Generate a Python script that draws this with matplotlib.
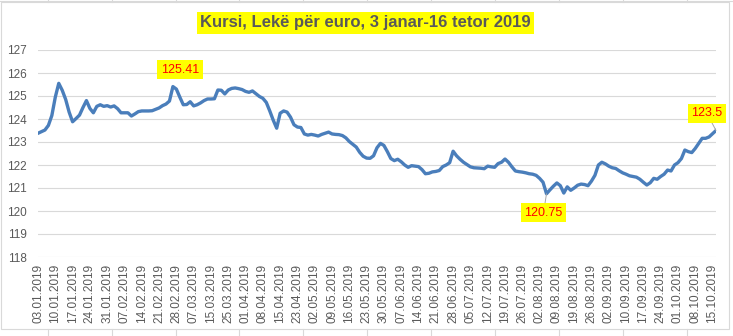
import matplotlib.pyplot as plt
from matplotlib.lines import Line2D
from matplotlib.patches import Rectangle

# ALL per EUR, one value per business day (03.01.2019 - 16.10.2019)
rates = [
    123.38, 123.45, 123.52, 123.72, 124.15, 124.95, 125.55, 125.25, 124.85, 124.30,
    123.88, 124.02, 124.17, 124.50, 124.80, 124.46, 124.27, 124.55, 124.62, 124.55,
    124.58, 124.52, 124.57, 124.45, 124.27, 124.27, 124.27, 124.13, 124.22, 124.32,
    124.35, 124.35, 124.35, 124.36, 124.42, 124.48, 124.58, 124.65, 124.78, 125.41,
    125.30, 124.95, 124.62, 124.63, 124.75, 124.57, 124.62, 124.70, 124.80, 124.87,
    124.87, 124.88, 125.26, 125.25, 125.09, 125.26, 125.33, 125.35, 125.32, 125.28,
    125.20, 125.16, 125.22, 125.10, 124.98, 124.90, 124.72, 124.35, 123.95, 123.60,
    124.25, 124.35, 124.30, 124.08, 123.75, 123.65, 123.63, 123.35, 123.30, 123.33,
    123.30, 123.26, 123.33, 123.38, 123.43, 123.35, 123.33, 123.32, 123.28, 123.18,
    123.02, 122.90, 122.78, 122.55, 122.38, 122.30, 122.29, 122.40, 122.75, 122.94,
    122.85, 122.58, 122.28, 122.19, 122.25, 122.14, 122.00, 121.90, 121.97, 121.95,
    121.93, 121.80, 121.62, 121.64, 121.70, 121.72, 121.76, 121.93, 122.00, 122.10,
    122.60, 122.40, 122.25, 122.12, 122.02, 121.92, 121.88, 121.87, 121.86, 121.84,
    121.95, 121.92, 121.90, 122.06, 122.12, 122.26, 122.12, 121.92, 121.74, 121.71,
    121.69, 121.66, 121.62, 121.60, 121.55, 121.42, 121.25, 120.75, 120.92, 121.08,
    121.22, 121.10, 120.78, 121.05, 120.90, 121.00, 121.12, 121.17, 121.15, 121.10,
    121.30, 121.55, 122.00, 122.12, 122.05, 121.95, 121.88, 121.85, 121.75, 121.66,
    121.60, 121.53, 121.50, 121.47, 121.38, 121.25, 121.13, 121.23, 121.42, 121.38,
    121.50, 121.60, 121.78, 121.74, 122.00, 122.10, 122.28, 122.65, 122.58, 122.54,
    122.72, 122.94, 123.16, 123.16, 123.22, 123.36, 123.50,
]

# every fifth business day gets a date label
date_labels = [
    "03.01.2019", "10.01.2019", "17.01.2019", "24.01.2019", "31.01.2019",
    "07.02.2019", "14.02.2019", "21.02.2019", "28.02.2019", "07.03.2019",
    "15.03.2019", "25.03.2019", "01.04.2019", "08.04.2019", "15.04.2019",
    "23.04.2019", "02.05.2019", "09.05.2019", "16.05.2019", "23.05.2019",
    "30.05.2019", "07.06.2019", "14.06.2019", "21.06.2019", "28.06.2019",
    "05.07.2019", "12.07.2019", "19.07.2019", "26.07.2019", "02.08.2019",
    "09.08.2019", "19.08.2019", "26.08.2019", "02.09.2019", "10.09.2019",
    "17.09.2019", "24.09.2019", "01.10.2019", "08.10.2019", "15.10.2019",
]

# (index, text offset in pixels, draw leader line)
callouts = [(39, (7, 17), False), (147, (-3, -19), True), (196, (-9, 17), True)]

W, H = 733, 336
fig = plt.figure(figsize=(W / 100, H / 100), dpi=100)
plt.rcParams['font.family'] = ['Liberation Sans', 'DejaVu Sans']
grey = '#595959'

ax = fig.add_axes([38 / W, 1 - 257 / H, (716 - 38) / W, (257 - 50) / H])
x = list(range(len(rates)))
ax.plot(x, rates, color='#4A7EBB', lw=2.4, solid_joinstyle='round', zorder=3)

ax.set_xlim(0, len(rates) - 1)
ax.set_ylim(118, 127)
ax.set_yticks(range(118, 128))
ax.set_xticks(range(0, len(rates), 5))
ax.set_xticklabels(date_labels, rotation=90)
ax.tick_params(axis='y', length=0, pad=8, labelsize=8.5, labelcolor=grey)
ax.tick_params(axis='x', length=0, pad=5, labelsize=8.5, labelcolor=grey)
ax.grid(axis='y', color='#D9D9D9', lw=0.8)
ax.set_axisbelow(True)
for s in ax.spines.values():
    s.set_visible(False)

for i, off, leader in callouts:
    arrow = dict(arrowstyle='-', color='#A6A6A6', lw=0.7, shrinkA=0, shrinkB=0) if leader else None
    ax.annotate(f"{rates[i]:g}", xy=(i, rates[i]), xytext=off, textcoords='offset pixels',
                ha='center', va='center', fontsize=9, color='#FF0000',
                bbox=dict(boxstyle='square,pad=0.28', fc='#FFFF00', ec='none'),
                arrowprops=arrow, zorder=5)

fig.text(365.5 / W, 1 - 22.7 / H, "Kursi, Lekë për euro, 3 janar-16 tetor 2019",
         ha='center', va='center', fontsize=12, fontweight='bold', color=grey,
         family=['Liberation Sans Narrow', 'Liberation Sans', 'DejaVu Sans'],
         bbox=dict(boxstyle='square,pad=0.22', fc='#FFFF00', ec='none'))

# chart frame and the sheet's cell lines around it
fig.add_artist(Rectangle((0.5 / W, 1 - 329 / H), 728.5 / W, 327 / H, transform=fig.transFigure,
                         fill=False, ec='#D9D9D9', lw=0.8))
fig.add_artist(Line2D([0, 1], [1 - 0.5 / H] * 2, transform=fig.transFigure, color='#D9D9D9', lw=0.8))
for cx in [48, 112, 176, 239, 303, 367, 431, 495, 559, 623, 687]:
    fig.add_artist(Line2D([cx / W] * 2, [0, 1 - 329 / H], transform=fig.transFigure, color='#D9D9D9', lw=0.8))
    fig.add_artist(Line2D([cx / W] * 2, [1 - 2 / H, 1], transform=fig.transFigure, color='#D9D9D9', lw=0.8))

fig.savefig('out.png', dpi=100)
